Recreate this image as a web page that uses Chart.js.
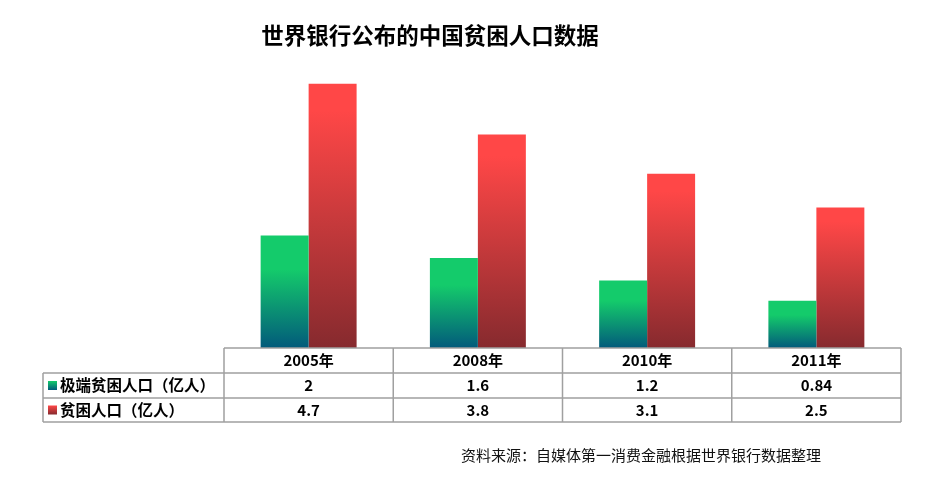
<!DOCTYPE html>
<html>
<head>
<meta charset="utf-8">
<script src="https://cdn.jsdelivr.net/npm/chart.js@4"></script>
<style>
  body { margin: 0; background: #fff; }
  #wrap { width: 925px; height: 488px; position: relative; }
</style>
</head>
<body>
<div id="wrap"><canvas id="povertyChart"></canvas></div>
<script>
// 数据
const years = ['2005年', '2008年', '2010年', '2011年'];
const extremePoor = [2, 1.6, 1.2, 0.84];
const poor = [4.7, 3.8, 3.1, 2.5];
const seriesNames = ['极端贫困人口（亿人）', '贫困人口（亿人）'];
const chartTitle = '世界银行公布的中国贫困人口数据';
const sourceNote = '资料来源：自媒体第一消费金融根据世界银行数据整理';

const cjk = '"Noto Sans CJK SC", "Noto Sans", sans-serif';
const gradStops = [
    ['#14cb6b', '#025a7b', 0.3],
    ['#ff4747', '#862a2e', 0.1]
];

function barGradient(ctx, idx) {
    const chart = ctx.chart;
    if (!chart.chartArea || ctx.raw === undefined) return gradStops[idx][0];
    const y = chart.scales.y;
    const top = y.getPixelForValue(ctx.raw);
    const bottom = y.getPixelForValue(0);
    const g = chart.ctx.createLinearGradient(0, top, 0, bottom);
    g.addColorStop(0, gradStops[idx][0]);
    g.addColorStop(gradStops[idx][2], gradStops[idx][0]);
    g.addColorStop(1, gradStops[idx][1]);
    return g;
}

// 表格、标题、来源
const tablePlugin = {
    id: 'dataTable',
    afterDraw(chart) {
        const c = chart.ctx;
        const area = chart.chartArea;
        const xs = chart.scales.x;
        const colW = (area.right - area.left) / years.length;
        const rowsY = [area.bottom, area.bottom + 25, area.bottom + 50, area.bottom + 74];
        const leftX = 43;

        c.save();
        // 标题
        c.fillStyle = '#000';
        c.font = 'bold 22.5px ' + cjk;
        c.textAlign = 'center';
        c.textBaseline = 'middle';
        c.fillText(chartTitle, 430, 35);

        // 网格线
        c.strokeStyle = '#a0a0a0';
        c.lineWidth = 1.5;
        c.beginPath();
        c.moveTo(area.left, rowsY[0]); c.lineTo(area.right, rowsY[0]);
        for (let r = 1; r < rowsY.length; r++) {
            c.moveTo(leftX, rowsY[r]); c.lineTo(area.right, rowsY[r]);
        }
        c.moveTo(leftX, rowsY[1]); c.lineTo(leftX, rowsY[3]);
        for (let i = 0; i <= years.length; i++) {
            const x = area.left + i * colW;
            c.moveTo(x, rowsY[0]); c.lineTo(x, rowsY[3]);
        }
        c.stroke();

        // 表头与数值
        c.font = 'bold 15px ' + cjk;
        c.fillStyle = '#000';
        const rowData = [extremePoor, poor];
        years.forEach((yr, i) => {
            const cx = xs.getPixelForValue(i);
            c.fillText(yr, cx, (rowsY[0] + rowsY[1]) / 2);
            rowData.forEach((arr, r) => {
                c.fillText(String(arr[i]), cx, (rowsY[r + 1] + rowsY[r + 2]) / 2);
            });
        });

        // 系列名称和图例方块
        c.textAlign = 'left';
        c.font = 'bold 15.5px ' + cjk;
        seriesNames.forEach((name, r) => {
            const cy = (rowsY[r + 1] + rowsY[r + 2]) / 2;
            const g = c.createLinearGradient(0, cy - 4.5, 0, cy + 4.5);
            g.addColorStop(0, gradStops[r][0]);
            g.addColorStop(1, gradStops[r][1]);
            c.fillStyle = g;
            c.fillRect(48, cy - 4.5, 9, 9);
            c.fillStyle = '#000';
            c.fillText(name, 60, cy);
        });

        // 来源
        c.textAlign = 'center';
        c.font = '15px ' + cjk;
        c.fillStyle = '#111';
        c.fillText(sourceNote, 641, 455);
        c.restore();
    }
};

const ctx = document.getElementById('povertyChart').getContext('2d');
new Chart(ctx, {
    type: 'bar',
    data: {
        labels: years,
        datasets: [
            { label: seriesNames[0], data: extremePoor, backgroundColor: c => barGradient(c, 0) },
            { label: seriesNames[1], data: poor, backgroundColor: c => barGradient(c, 1) }
        ]
    },
    options: {
        responsive: true,
        maintainAspectRatio: false,
        animation: false,
        layout: { padding: { left: 224, right: 24, top: 67, bottom: 140 } },
        datasets: { bar: { categoryPercentage: 0.567, barPercentage: 1, borderWidth: 0 } },
        scales: {
            x: { display: false },
            y: { display: false, min: 0, max: 5 }
        },
        plugins: {
            legend: { display: false },
            tooltip: { enabled: false },
            title: { display: false }
        }
    },
    plugins: [tablePlugin]
});
</script>
</body>
</html>
